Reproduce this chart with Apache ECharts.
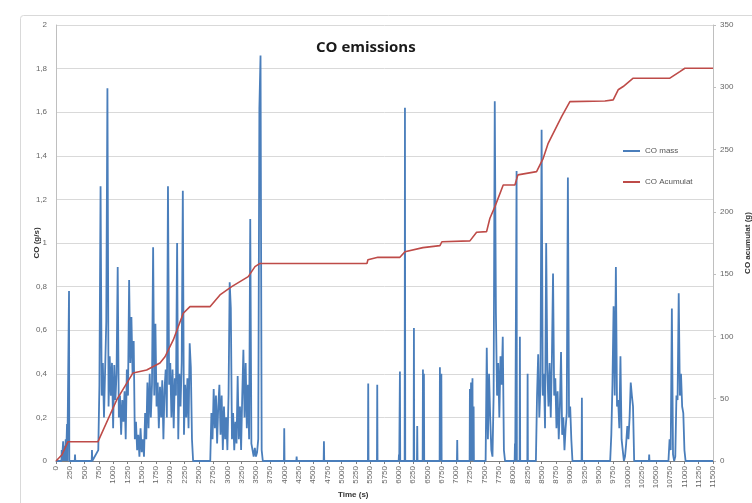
<!DOCTYPE html>
<html>
<head>
<meta charset="utf-8">
<script src="https://cdn.jsdelivr.net/npm/echarts@6/dist/echarts.min.js"></script>
<style>
  html, body { margin: 0; padding: 0; background: #ffffff; }
  #chart { width: 752px; height: 503px; }
</style>
</head>
<body>
<div id="chart"></div>
<script>
// ---- CO mass flow (g/s) ----
// Driving bursts: one reading every BURST_STEP seconds from each burst start.
const BURST_STEP = 20;

const burstAStart = 740;
const burstA = [
  0.05, 0.35, 1.26, 0.30, 0.45, 0.20, 0.42, 0.64, 1.71, 0.25,
  0.48, 0.30, 0.45, 0.15, 0.44, 0.28, 0.40, 0.89, 0.20, 0.30,
  0.12, 0.28, 0.18, 0.32, 0.10, 0.42, 0.30, 0.83, 0.45, 0.66,
  0.40, 0.55, 0.10, 0.18, 0.05, 0.12, 0.02, 0.15, 0.04, 0.10,
  0.02, 0.22, 0.10, 0.36, 0.15, 0.40, 0.20, 0.35, 0.98, 0.30,
  0.63, 0.25, 0.36, 0.15, 0.34, 0.20, 0.37, 0.10, 0.33, 0.42,
  0.20, 1.26, 0.35, 0.45, 0.20, 0.42, 0.15, 0.38, 0.30, 1.00,
  0.10, 0.40, 0.25, 0.45, 1.24, 0.12, 0.35, 0.20, 0.38, 0.15,
  0.54, 0.43, 0.10, 0
];

const burstBStart = 2700;
const burstB = [
  0, 0.22, 0.10, 0.33, 0.15, 0.30, 0.08, 0.25, 0.35, 0.12,
  0.30, 0.05, 0.25, 0.10, 0.20, 0.05, 0.30, 0.82, 0.70, 0.10,
  0.22, 0.05, 0.18, 0.08, 0.39, 0.10, 0.25, 0.05, 0.30, 0.51,
  0.20, 0.45, 0.15, 0.35, 0.10, 1.11, 0.08, 0.05, 0.02, 0.06,
  0.02, 0.04, 0.10, 1.62, 1.86, 0.05, 0
];

const burstCStart = 7520;
const burstC = [
  0, 0.52, 0.10, 0.40, 0.20, 0.05, 0.02, 0.30, 1.65, 0.68,
  0.30, 0.45, 0.20, 0.48, 0.35, 0.57, 0.05, 0
];

const burstDStart = 8400;
const burstD = [
  0, 0.30, 0.49, 0.20, 0.35, 1.52, 0.30, 0.40, 0.15, 1.00,
  0.42, 0.25, 0.45, 0.20, 0.47, 0.86, 0.30, 0.38, 0.15, 0.32,
  0.10, 0.25, 0.50, 0.12, 0.20, 0.05, 0.15, 0.22, 1.30, 0.20,
  0.25, 0.10, 0
];

const burstEStart = 9700;
const burstE = [
  0, 0.12, 0.35, 0.71, 0.30, 0.89, 0.25, 0.28, 0.15, 0.48,
  0.10, 0.05, 0, 0.02, 0.08, 0.16, 0.10, 0.20, 0.36, 0.30,
  0.25, 0
];

const burstFStart = 10720;
const burstF = [
  0, 0.10, 0.05, 0.70, 0.03, 0, 0.02, 0.30, 0.28, 0.77,
  0.30, 0.40, 0.25, 0.22, 0.05, 0
];

// Isolated peaks between bursts (s, g/s)
const peakTimes = [
  100, 125, 150, 170, 193, 228, 333, 630,
  3995, 4212, 4690, 5465, 5623, 6003, 6020, 6108, 6265, 6323,
  6423, 6440, 6720, 6745, 7023, 7245, 7265, 7290, 7310,
  8033, 8062, 8120, 8255, 9205, 10383
];
const peakValues = [
  0.05, 0.09, 0.07, 0.10, 0.17, 0.78, 0.03, 0.05,
  0.15, 0.02, 0.09, 0.355, 0.35, 0.03, 0.41, 1.62, 0.61, 0.16,
  0.42, 0.40, 0.43, 0.40, 0.096, 0.33, 0.36, 0.38, 0.25,
  0.08, 1.33, 0.57, 0.40, 0.29, 0.03
];

// ---- Cumulative CO (g) ----
const cumTimes = [
  0, 105, 210, 735, 770, 1062, 1348, 1587, 1820, 1908,
  2053, 2228, 2345, 2695, 2870, 3075, 3365, 3483, 3570, 3605,
  5443, 5460, 5635, 6020, 6108, 6423, 6720, 6755, 7245, 7362,
  7537, 7595, 7683, 7828, 8033, 8085, 8412, 8528, 8615, 8850,
  8995, 9608, 9753, 9840, 9928, 10103, 10745, 10920, 11008, 11500
];
const cumValues = [
  0, 5, 15.5, 15.5, 17, 49, 70.7, 73, 78.7, 83.7,
  97.2, 118.6, 123.9, 123.9, 133.3, 140, 148, 156, 158.6, 158.6,
  158.6, 161.5, 163.5, 163.5, 168, 171.3, 172.9, 176, 176.7, 183.6,
  184.1, 194.9, 204.2, 221.6, 221.6, 229.7, 232.3, 243, 255, 276.5,
  288.5, 289, 289.9, 298, 300.6, 307.3, 307.3, 312.6, 315.3, 315.3
];

// Axis ranges
const timeMax = 11500, timeStep = 250;
const massMax = 2, massStep = 0.2;
const cumMax = 350, cumStep = 50;

// ---- assemble series data ----
const massPoints = [];
[[burstAStart, burstA], [burstBStart, burstB], [burstCStart, burstC],
 [burstDStart, burstD], [burstEStart, burstE], [burstFStart, burstF]]
  .forEach(([t0, vals]) => vals.forEach((v, i) => massPoints.push([t0 + i * BURST_STEP, v])));
peakTimes.forEach((t, i) => {
  massPoints.push([t - 5, 0], [t, peakValues[i]], [t + 5, 0]);
});
massPoints.push([0, 0], [timeMax, 0]);
massPoints.sort((a, b) => a[0] - b[0]);

const cumPoints = cumTimes.map((t, i) => [t, cumValues[i]]);

const comma = v => String(Math.round(v * 10) / 10).replace('.', ',');
const plain = v => String(v);
const tickFont = { fontSize: 8, color: '#666666', fontFamily: 'Liberation Sans' };
const nameFont = { fontSize: 8, fontWeight: 'bold', color: '#333333', fontFamily: 'Liberation Sans' };

const chart = echarts.init(document.getElementById('chart'), null, { renderer: 'canvas' });
chart.setOption({
  animation: false,
  backgroundColor: '#ffffff',
  title: {
    text: 'CO emissions',
    left: 316, top: 40, padding: 0,
    textStyle: { fontSize: 15, fontWeight: 'bold', color: '#1a1a1a', fontFamily: 'Open Sans' }
  },
  legend: {
    orient: 'vertical',
    left: 618, top: 142,
    icon: 'rect',
    itemWidth: 17, itemHeight: 2, itemGap: 23,
    textStyle: { fontSize: 8, color: '#555555', fontFamily: 'Liberation Sans' },
    data: ['CO mass', 'CO Acumulat']
  },
  grid: { left: 56, right: 39, top: 25, bottom: 42, outerBoundsMode: 'none', containLabel: false },
  xAxis: {
    type: 'value',
    min: 0, max: timeMax, interval: timeStep,
    axisLine: { show: true, lineStyle: { color: '#7f7f7f', width: 1 } },
    axisTick: { show: true, length: 3, lineStyle: { color: '#7f7f7f' } },
    axisLabel: { ...tickFont, rotate: 90, margin: 5, formatter: plain },
    splitLine: { show: false }
  },
  yAxis: [
    {
      type: 'value',
      min: 0, max: massMax, interval: massStep,
      name: 'CO (g/s)',
      nameLocation: 'middle', nameGap: 15, nameRotate: 90, nameMoveOverlap: false,
      nameTextStyle: nameFont,
      axisLine: { show: true, lineStyle: { color: '#bfbfbf' } },
      axisTick: { show: false },
      axisLabel: { ...tickFont, margin: 9, formatter: comma },
      splitLine: { show: true, lineStyle: { color: '#d9d9d9', width: 1 } }
    },
    {
      type: 'value',
      min: 0, max: cumMax, interval: cumStep,
      name: 'CO acumulat (g)',
      nameLocation: 'middle', nameGap: 31, nameRotate: 90, nameMoveOverlap: false,
      nameTextStyle: nameFont,
      axisLine: { show: true, lineStyle: { color: '#bfbfbf' } },
      axisTick: { show: true, length: 3, lineStyle: { color: '#bfbfbf' } },
      axisLabel: { ...tickFont, margin: 7, formatter: plain },
      splitLine: { show: false }
    }
  ],
  series: [
    {
      name: 'CO mass',
      type: 'line',
      yAxisIndex: 0,
      data: massPoints,
      symbol: 'none',
      lineStyle: { color: '#4a7ebb', width: 1.8 },
      itemStyle: { color: '#4a7ebb' },
      z: 2
    },
    {
      name: 'CO Acumulat',
      type: 'line',
      yAxisIndex: 1,
      data: cumPoints,
      symbol: 'none',
      lineStyle: { color: '#be4b48', width: 1.6 },
      itemStyle: { color: '#be4b48' },
      z: 3
    }
  ],
  graphic: [
    {
      type: 'rect',
      shape: { x: 20.5, y: 15.5, width: 745, height: 500, r: 3 },
      style: { fill: 'none', stroke: '#d9d9d9', lineWidth: 1 },
      silent: true, z: -1
    },
    {
      type: 'text',
      left: 338, top: 491,
      style: { text: 'Time (s)', fontSize: 8, fontWeight: 'bold', fill: '#333333', fontFamily: 'Liberation Sans' }
    }
  ]
});
</script>
</body>
</html>
